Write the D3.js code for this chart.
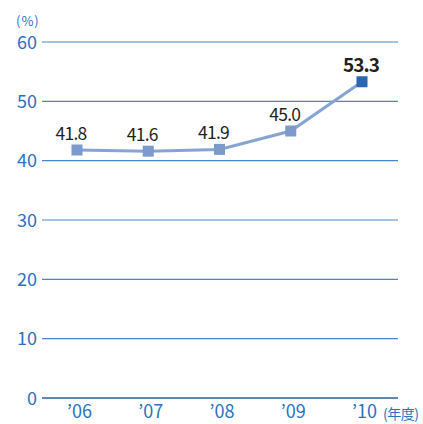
<!DOCTYPE html>
<html>
<head>
<meta charset="utf-8">
<script src="https://cdn.jsdelivr.net/npm/d3@7"></script>
<style>
  html, body { margin: 0; padding: 0; background: #ffffff; }
  svg { display: block; }
</style>
</head>
<body>
<svg id="chart" width="423" height="424"></svg>
<script>
// Ratio by fiscal year (%)
const years = ["’06", "’07", "’08", "’09", "’10"];
const ratios = [41.8, 41.6, 41.9, 45.0, 53.3];
const yTicks = [0, 10, 20, 30, 40, 50, 60];

const svg = d3.select("#chart");
const plotLeft = 42, plotRight = 398, plotTop = 42, plotBottom = 398;

const x = d3.scalePoint().domain(years).range([77, 362]);
const y = d3.scaleLinear().domain([0, 60]).range([plotBottom, plotTop]);

const blue = "#2b72bf";
const font = "'Noto Sans CJK JP', 'Noto Sans', sans-serif";

// horizontal gridlines
svg.append("g")
  .selectAll("line")
  .data(yTicks.filter(d => d > 0))
  .join("line")
  .attr("x1", plotLeft).attr("x2", plotRight)
  .attr("y1", d => y(d)).attr("y2", d => y(d))
  .attr("stroke", "#4a87c8").attr("stroke-width", 1.2);

// baseline
svg.append("line")
  .attr("x1", plotLeft).attr("x2", plotRight)
  .attr("y1", y(0)).attr("y2", y(0))
  .attr("stroke", "#2f5f92").attr("stroke-width", 1.6);

// y axis labels
const yAxis = d3.axisLeft(y).tickValues(yTicks).tickSize(0).tickPadding(0);
const gy = svg.append("g").attr("transform", "translate(37,0)").call(yAxis);
gy.select(".domain").remove();
gy.selectAll("text")
  .attr("fill", blue)
  .attr("font-family", font)
  .attr("font-size", 18)
  .attr("dy", "0.35em");

// x axis labels
const xAxis = d3.axisBottom(x).tickSize(0).tickPadding(0);
const gx = svg.append("g").attr("transform", "translate(2,405)").call(xAxis);
gx.select(".domain").remove();
gx.selectAll("text")
  .attr("fill", blue)
  .attr("font-family", font)
  .attr("font-size", 18)
  .attr("dy", "0.71em");

// unit labels
svg.append("text")
  .attr("x", 16).attr("y", 26)
  .attr("fill", blue).attr("font-family", font).attr("font-size", 13)
  .attr("letter-spacing", 1)
  .text("(%)");
svg.append("text")
  .attr("x", 383).attr("y", 419)
  .attr("fill", blue).attr("font-family", font).attr("font-size", 14)
  .attr("letter-spacing", -0.5)
  .text("(年度)");

// line
const line = d3.line().x((d, i) => x(years[i])).y(d => y(d));
svg.append("path")
  .datum(ratios)
  .attr("d", line)
  .attr("fill", "none")
  .attr("stroke", "#86a4d3")
  .attr("stroke-width", 3);

// markers
const size = 11;
const last = ratios.length - 1;
svg.append("g")
  .selectAll("rect")
  .data(ratios)
  .join("rect")
  .attr("x", (d, i) => x(years[i]) - size / 2)
  .attr("y", d => y(d) - size / 2)
  .attr("width", size).attr("height", size)
  .attr("fill", (d, i) => i === last ? "#2b66b1" : "#7c9bcc");

// value labels (latest year emphasised)
svg.append("g")
  .selectAll("text")
  .data(ratios)
  .join("text")
  .attr("x", (d, i) => x(years[i]) + (i === last ? -1 : -6))
  .attr("y", d => y(d) - 10)
  .attr("text-anchor", "middle")
  .attr("font-family", font)
  .attr("font-size", (d, i) => i === last ? 19 : 17.5)
  .attr("font-weight", (d, i) => i === last ? 700 : 400)
  .attr("letter-spacing", (d, i) => i === last ? -1 : -0.8)
  .attr("fill", "#231f20")
  .text(d => d.toFixed(1));
</script>
</body>
</html>
